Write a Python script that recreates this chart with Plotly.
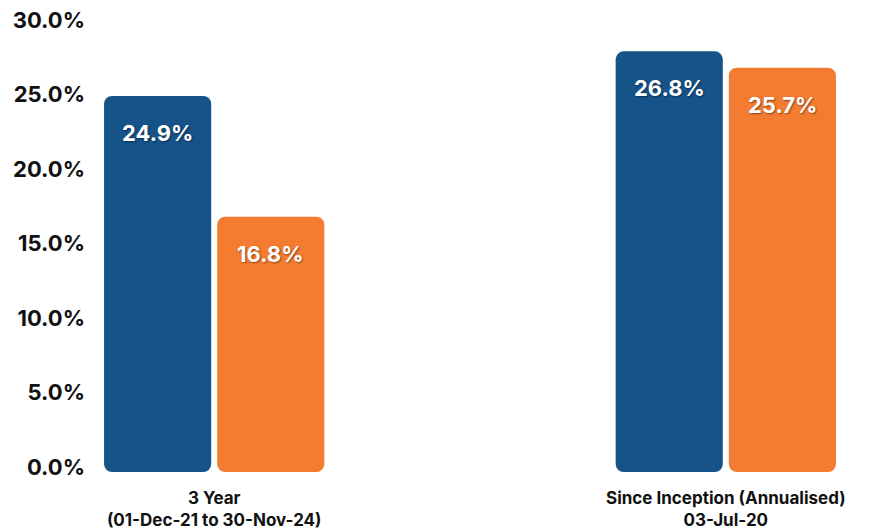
import plotly.graph_objects as go

categories = ["3 Year<br>(01-Dec-21 to 30-Nov-24)", "Since Inception (Annualised)<br>03-Jul-20"]
series_names = ["Fund", "Benchmark"]
fund_values = [24.9, 27.9]
bench_values = [16.8, 26.8]
fund_labels = ["24.9%", "26.8%"]
bench_labels = ["16.8%", "25.7%"]
y_tick_vals = [0, 5, 10, 15, 20, 25, 30]
y_tick_text = ["0.0%", "5.0%", "10.0%", "15.0%", "20.0%", "25.0%", "30.0%"]

BLUE = "#155389"
ORANGE = "#F47C30"
BASE = -0.34  # bars start slightly below the zero line, as in the reference
FONT = "Inter"

fig = go.Figure()
for name, vals, color in [(series_names[0], fund_values, BLUE), (series_names[1], bench_values, ORANGE)]:
    fig.add_trace(go.Bar(
        x=categories,
        y=[v - BASE for v in vals],
        base=BASE,
        name=name,
        marker=dict(color=color, cornerradius=8, line=dict(width=0)),
        hoverinfo="skip",
    ))

slot_px = 56.6
for i, cat in enumerate(categories):
    for vals, labels, shift in [(fund_values, fund_labels, -slot_px), (bench_values, bench_labels, slot_px)]:
        fig.add_annotation(
            x=cat, y=vals[i], xref="x", yref="y",
            text=labels[i], showarrow=False,
            xshift=shift, yshift=-37, yanchor="middle",
            font=dict(family=FONT, size=22, color="white", weight="bold",
                      shadow="1px 1px 2px rgba(0,0,0,0.45)"),
        )

# page body has an 8px margin, so the figure is sized 8px smaller each way
fig.update_layout(
    width=861, height=523,
    margin=dict(l=78, r=5, t=12, b=59),
    paper_bgcolor="white", plot_bgcolor="white",
    showlegend=False,
    barmode="group",
    bargap=0.5577, bargroupgap=0.053,
    font=dict(family=FONT, color="#111111"),
)
fig.update_xaxes(
    type="category", range=[-0.2506, 1.2701], automargin=False,
    showgrid=False, zeroline=False, showline=False, ticks="",
    ticklabelstandoff=14,
    tickfont=dict(family=FONT, size=17, color="#111111", weight="bold"),
)
fig.update_yaxes(
    range=[BASE, 30], tickvals=y_tick_vals, ticktext=y_tick_text, automargin=False,
    showgrid=False, zeroline=False, showline=False, ticks="",
    ticklabeloverflow="allow",
    tickfont=dict(family=FONT, size=22, color="#111111", weight="bold"),
)

fig.write_html("out.html")
